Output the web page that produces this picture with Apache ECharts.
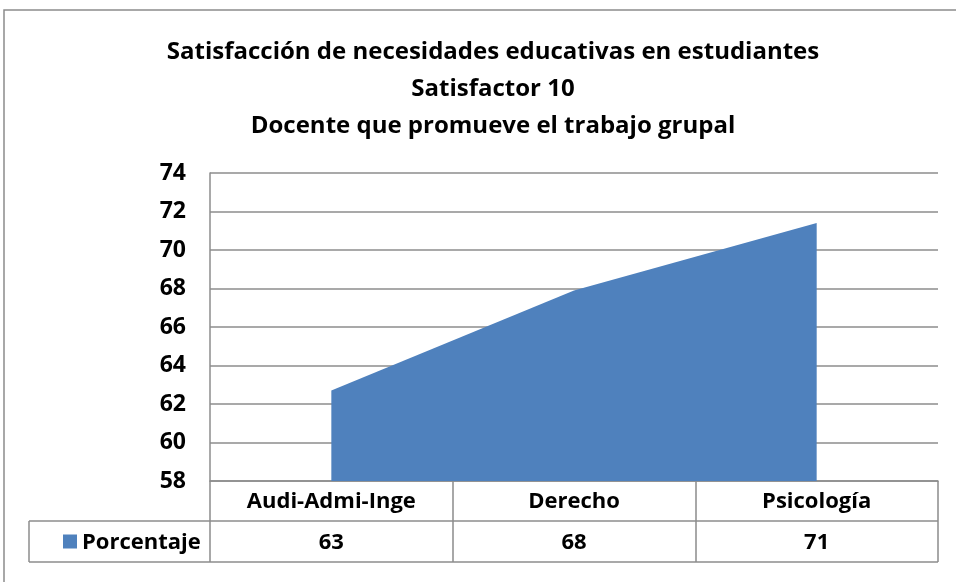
<!DOCTYPE html>
<html><head><meta charset="utf-8">
<script src="https://cdn.jsdelivr.net/npm/echarts@6/dist/echarts.min.js"></script>
<style>html,body{margin:0;padding:0;background:#fff}#c{width:956px;height:582px}</style>
</head><body><div id="c"></div>
<script>
const titleLines = ["Satisfacción de necesidades educativas en estudiantes", "Satisfactor 10", "Docente que promueve el trabajo grupal"];
const categories = ["Audi-Admi-Inge", "Derecho", "Psicología"];
const seriesName = "Porcentaje";
const values = [62.7, 67.9, 71.4];
const tableLabels = ["63", "68", "71"];
const yTicks = [58, 60, 62, 64, 66, 68, 70, 72, 74];

const FONT = "'Open Sans', Lato, sans-serif";
const GRAY = "#8c8c8c";
const BLUE = "#4f81bd";
const chart = echarts.init(document.getElementById('c'), null, {renderer: 'canvas'});
const option = {
  animation: false,
  backgroundColor: '#fff',
  title: {
    text: titleLines.join('\n'),
    left: 488, textAlign: 'center', top: 29,
    textStyle: {fontFamily: FONT, fontWeight: 'bold', fontSize: 24, lineHeight: 37, color: '#000'}
  },
  grid: {left: 210, right: 18, top: 173, bottom: 101},
  xAxis: {
    type: 'category', data: categories, boundaryGap: true,
    axisLine: {show: true, lineStyle: {color: GRAY, width: 1.5}},
    axisTick: {show: true, interval: 0, length: 81, lineStyle: {color: GRAY, width: 1.5}},
    axisLabel: {margin: 1, lineHeight: 40, fontFamily: FONT, fontWeight: 'bold', fontSize: 22, color: '#000', interval: 0},
    splitLine: {show: false}
  },
  yAxis: {
    type: 'value', min: yTicks[0], max: yTicks[yTicks.length - 1], interval: 2,
    axisLine: {show: true, lineStyle: {color: GRAY, width: 1.5}},
    axisTick: {show: false},
    axisLabel: {margin: 24, fontFamily: FONT, fontWeight: 'bold', fontSize: 23, color: '#000'},
    splitLine: {show: true, lineStyle: {color: GRAY, width: 1.5}}
  },
  series: [{
    name: seriesName, type: 'line', data: values, symbol: 'none',
    lineStyle: {width: 0, color: BLUE}, itemStyle: {color: BLUE},
    areaStyle: {color: BLUE, opacity: 1, origin: 'start'}
  }]
};
chart.setOption(option);

const yBottom = chart.convertToPixel({yAxisIndex: 0}, yTicks[0]);
const xRight = 956 - 18;
const xLeftTable = 29;
const row1 = yBottom + 40, row2 = yBottom + 81;
const g = [
  {type: 'rect', shape: {x: 4, y: 10, width: 1000, height: 1000}, style: {fill: 'none', stroke: GRAY, lineWidth: 1.5}, z: 0},
  {type: 'line', shape: {x1: xLeftTable, y1: row1, x2: xRight, y2: row1}, style: {stroke: GRAY, lineWidth: 1.5}},
  {type: 'line', shape: {x1: xLeftTable, y1: row2, x2: xRight, y2: row2}, style: {stroke: GRAY, lineWidth: 1.5}},
  {type: 'line', shape: {x1: xLeftTable, y1: row1, x2: xLeftTable, y2: row2}, style: {stroke: GRAY, lineWidth: 1.5}},
  {type: 'rect', shape: {x: 63, y: (row1 + row2) / 2 - 7, width: 14, height: 14}, style: {fill: BLUE}},
  {type: 'text', x: 82, y: (row1 + row2) / 2 + 1, style: {text: seriesName, font: "bold 22px " + FONT, fill: '#000', textVerticalAlign: 'middle', verticalAlign: 'middle'}}
];
categories.forEach((c, i) => {
  const x = chart.convertToPixel({xAxisIndex: 0}, c);
  g.push({type: 'text', x: x, y: (row1 + row2) / 2 + 1, style: {text: tableLabels[i], font: "bold 22px " + FONT, fill: '#000', align: 'center', textAlign: 'center', verticalAlign: 'middle', textVerticalAlign: 'middle'}});
});
chart.setOption({graphic: g});
</script></body></html>
